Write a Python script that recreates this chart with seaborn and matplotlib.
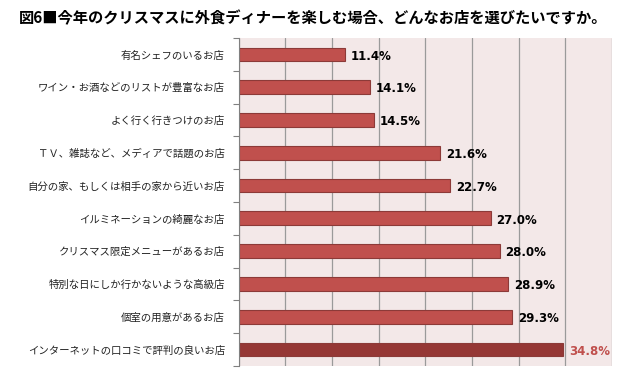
import pandas as pd
import numpy as np
import matplotlib
matplotlib.use("Agg")
import matplotlib.pyplot as plt
import seaborn as sns

# Data (top to bottom)
shops = [
    "有名シェフのいるお店",
    "ワイン・お酒などのリストが豊富なお店",
    "よく行く行きつけのお店",
    "ＴＶ、雑誌など、メディアで話題のお店",
    "自分の家、もしくは相手の家から近いお店",
    "イルミネーションの綺麗なお店",
    "クリスマス限定メニューがあるお店",
    "特別な日にしか行かないような高級店",
    "個室の用意があるお店",
    "インターネットの口コミで評判の良いお店",
]
percent = [11.4, 14.1, 14.5, 21.6, 22.7, 27.0, 28.0, 28.9, 29.3, 34.8]

df = pd.DataFrame({"shop": shops, "percent": percent})

sns.set_style("white")
plt.rcParams['font.family'] = ['Noto Sans CJK JP', 'DejaVu Sans']

bar_red = "#C0504D"
bar_dark = "#953735"
colors = [bar_red] * (len(shops) - 1) + [bar_dark]

fig = plt.figure(figsize=(6.4, 3.73), dpi=100)
ax = fig.add_axes([0.373, 0.019, 0.583, 0.879])
ax.set_facecolor("#F3E8E8")

sns.barplot(data=df, x="percent", y="shop", hue="shop", palette=colors,
            order=shops, legend=False, width=0.42, saturation=1, ax=ax,
            edgecolor="#8C3A38", linewidth=0.8)

ax.set_xlim(0, 40)
ax.set_xticks(np.arange(0, 41, 5))
ax.set_xticklabels([])
ax.tick_params(axis="x", length=0)
ax.grid(axis="x", color="#9A9A9A", linewidth=0.9)
ax.set_axisbelow(True)
ax.set_ylim(len(shops) - 0.5, -0.5)

ax.tick_params(axis="y", which="major", left=False, length=0, labelsize=7.5,
               pad=10, labelcolor="#222222")
ax.set_yticks(np.arange(-0.5, len(shops), 1), minor=True)
ax.tick_params(axis="y", which="minor", left=True, length=4, width=0.8,
               color="#808080", direction="out")
ax.set_xlabel("")
ax.set_ylabel("")

for s in ["top", "right", "bottom"]:
    ax.spines[s].set_visible(False)
ax.spines["left"].set_color("#808080")

for i, v in enumerate(percent):
    last = i == len(percent) - 1
    ax.text(v + 0.6, i + 0.05, f"{v:.1f}%", va="center", ha="left",
            fontsize=8.5, fontweight="bold", family=["DejaVu Sans"],
            color=bar_red if last else "black")

fig.text(0.03, 0.952, "図6■今年のクリスマスに外食ディナーを楽しむ場合、どんなお店を選びたいですか。",
         fontsize=11, fontweight="bold", ha="left", va="center", color="black")

fig.savefig("out.png", dpi=100, facecolor="white")
